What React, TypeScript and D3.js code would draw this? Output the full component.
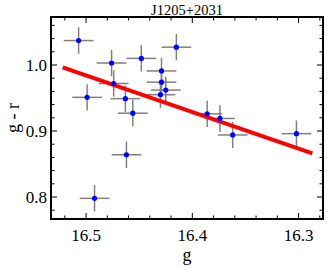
import React from 'react';
import * as d3 from 'd3';

// data (g magnitude vs g - r colour)
const gMag = [16.507, 16.499, 16.476, 16.474, 16.463, 16.456, 16.448, 16.429, 16.429, 16.425, 16.430, 16.415, 16.386, 16.374, 16.362, 16.302, 16.462, 16.492];
const gr = [1.037, 0.951, 1.003, 0.972, 0.949, 0.927, 1.010, 0.991, 0.974, 0.962, 0.955, 1.027, 0.926, 0.919, 0.894, 0.896, 0.864, 0.798];
const gErr = [0.014, 0.014, 0.014, 0.014, 0.014, 0.014, 0.014, 0.014, 0.014, 0.014, 0.014, 0.014, 0.014, 0.014, 0.014, 0.014, 0.014, 0.014];
const grErr = [0.02, 0.02, 0.02, 0.02, 0.02, 0.02, 0.02, 0.02, 0.02, 0.02, 0.02, 0.02, 0.02, 0.02, 0.02, 0.02, 0.02, 0.02];

// fitted line endpoints
const fitG = [16.522, 16.287];
const fitGR = [0.9965, 0.866];

const xTickLabels = [16.5, 16.4, 16.3];
const yTickLabels = [0.8, 0.9, 1.0];
const title = 'J1205+2031';

export default function App() {
  const W = 327, H = 269;
  const m = { left: 51, right: 323, top: 17, bottom: 219 };

  // x axis runs backwards (brighter on the left)
  const x = d3.scaleLinear().domain([16.533, 16.277]).range([m.left, m.right]);
  const y = d3.scaleLinear().domain([0.7667, 1.0727]).range([m.bottom, m.top]);

  const xMinor = d3.range(16.28, 16.54, 0.02).filter(v => v <= 16.533 && v >= 16.277);
  const yMinor = d3.range(0.78, 1.08, 0.02).filter(v => v <= 1.0727 && v >= 0.7667);
  const isMajorX = (v: number) => xTickLabels.some(t => Math.abs(t - v) < 1e-6);
  const isMajorY = (v: number) => yTickLabels.some(t => Math.abs(t - v) < 1e-6);

  const line = d3.line<number>().x((_, i) => x(fitG[i])).y(d => y(d));
  const font = '"Liberation Serif", "DejaVu Serif", serif';

  return (
    <svg width={W} height={H} style={{ position: 'absolute', left: 0, top: 0, background: '#fff' }} fontFamily={font}>
      <text x={(m.left + m.right) / 2} y={15} textAnchor="middle" fontSize={14.5}>{title}</text>

      {/* ticks, inward on all four sides */}
      {xMinor.map((v, i) => {
        const len = isMajorX(v) ? 6 : 3.5;
        return (
          <g key={'xt' + i} stroke="#000" strokeWidth={1}>
            <line x1={x(v)} x2={x(v)} y1={m.bottom} y2={m.bottom - len} />
            <line x1={x(v)} x2={x(v)} y1={m.top} y2={m.top + len} />
          </g>
        );
      })}
      {yMinor.map((v, i) => {
        const len = isMajorY(v) ? 6 : 3.5;
        return (
          <g key={'yt' + i} stroke="#000" strokeWidth={1}>
            <line x1={m.left} x2={m.left + len} y1={y(v)} y2={y(v)} />
            <line x1={m.right} x2={m.right - len} y1={y(v)} y2={y(v)} />
          </g>
        );
      })}

      {xTickLabels.map(v => (
        <text key={'xl' + v} x={x(v)} y={240.5} textAnchor="middle" fontSize={17}>{v.toFixed(1)}</text>
      ))}
      {yTickLabels.map(v => (
        <text key={'yl' + v} x={47} y={y(v) + 6} textAnchor="end" fontSize={17}>{v.toFixed(1)}</text>
      ))}

      <text x={(m.left + m.right) / 2} y={260.5} textAnchor="middle" fontSize={18}>g</text>
      <text transform={`translate(19,${(m.top + m.bottom) / 2}) rotate(-90)`} textAnchor="middle" fontSize={18}>g - r</text>

      {/* error bars */}
      {gMag.map((g, i) => (
        <g key={'e' + i} stroke="#808080" strokeWidth={1.5}>
          <line x1={x(g - gErr[i])} x2={x(g + gErr[i])} y1={y(gr[i])} y2={y(gr[i])} />
          <line x1={x(g)} x2={x(g)} y1={y(gr[i] - grErr[i])} y2={y(gr[i] + grErr[i])} />
        </g>
      ))}

      <path d={line(fitGR) || ''} stroke="#ff0000" strokeWidth={4} fill="none" />

      {gMag.map((g, i) => (
        <circle key={'p' + i} cx={x(g)} cy={y(gr[i])} r={2.6} fill="#0000ff" />
      ))}

      <rect x={m.left} y={m.top} width={m.right - m.left} height={m.bottom - m.top} fill="none" stroke="#000" strokeWidth={2} />
    </svg>
  );
}
